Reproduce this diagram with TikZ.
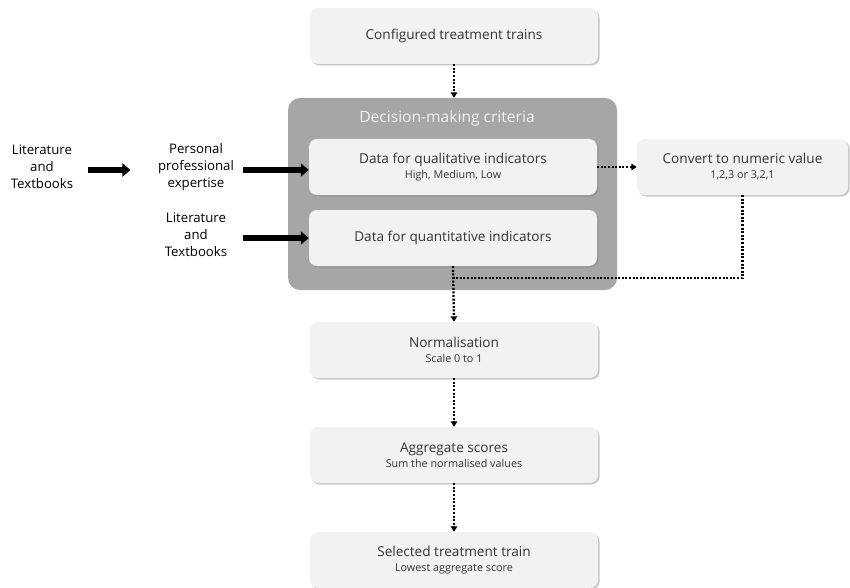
\documentclass[tikz,border=0pt]{standalone}
\usepackage{fontspec}
\setmainfont{Open Sans}
\usetikzlibrary{arrows.meta,shadows}

\definecolor{boxfill}{HTML}{F2F2F2}
\definecolor{framegray}{HTML}{A6A6A6}
\definecolor{textgray}{HTML}{333333}
\newcommand{\subtextfont}{\fontsize{10.8}{13}\selectfont}

\begin{document}
\begin{tikzpicture}[x=1pt,y=-1pt,
  stepbox/.style={rounded corners=8pt, fill=boxfill, minimum width=288pt,
    minimum height=56pt, align=center, text=textgray,
    font=\fontsize{13.6}{17}\selectfont,
    drop shadow={shadow xshift=1.5pt, shadow yshift=-1.5pt, opacity=0.45}},
  sourcetext/.style={align=center, text width=90pt, text=black,
    font=\fontsize{13.2}{17}\selectfont},
  dotline/.style={dash pattern=on 2pt off 1.6pt, line width=2.3pt},
  dotarrow/.style={dotline, -{Triangle[length=5.5pt,width=6.5pt]}},
  bigarrow/.style={line width=5.5pt, -{Triangle[length=8pt,width=13pt]}}]

\useasboundingbox (0,0) rectangle (850,588);

% boxes down the middle
\node (trains) [stepbox] at (454,36) {Configured treatment trains};

\node (criteria) [fill=framegray, rounded corners=12pt, minimum width=329pt,
  minimum height=192pt] at (452.5,194) {};
\node (title) [text=boxfill, font=\fontsize{15.6}{18}\selectfont] at (447,118) {Decision-making criteria};

\node (qual) [stepbox] at (453,167) {Data for qualitative indicators\\[-2pt]{\subtextfont High, Medium, Low}};
\node (quant) [stepbox] at (453,238) {Data for quantitative indicators};

\node (convert) [stepbox, minimum width=211pt] at (742.5,167) {Convert to numeric value\\[-2pt]{\subtextfont 1,2,3 or 3,2,1}};

\node (norm) [stepbox] at (454,350) {Normalisation\\[-2pt]{\subtextfont Scale 0 to 1}};
\node (aggr) [stepbox] at (454,455) {Aggregate scores\\[-2pt]{\subtextfont Sum the normalised values}};
\node (select) [stepbox] at (454,560) {Selected treatment train\\[-2pt]{\subtextfont Lowest aggregate score}};

% sources on the left
\node (lit1) [sourcetext, text width=70pt] at (42,167) {Literature\\and\\Textbooks};
\node (expert) [sourcetext] at (196,167) {Personal\\professional\\expertise};
\node (lit2) [sourcetext] at (196,235) {Literature\\and\\Textbooks};

\draw [bigarrow] ([xshift=7pt,yshift=-3pt]lit1.east) -- ([xshift=-17pt,yshift=-3pt]expert.west);
\draw [bigarrow] ([xshift=-66pt,yshift=-3pt]qual.west) -- ([yshift=-3pt]qual.west);
\draw [bigarrow] ([xshift=-66pt]quant.west) -- (quant.west);

% dotted connectors
\coordinate (join) at (453,278);
\draw [dotarrow] (trains.south) -- (trains.south |- criteria.north);
\draw [dotarrow] (qual.east) -- (convert.west);
\draw [dotline] (convert.south) |- (join);
\draw [dotarrow] (quant.south) -- (norm.north);
\draw [dotarrow] (norm.south) -- (aggr.north);
\draw [dotarrow] (aggr.south) -- (select.north);

\end{tikzpicture}
\end{document}
